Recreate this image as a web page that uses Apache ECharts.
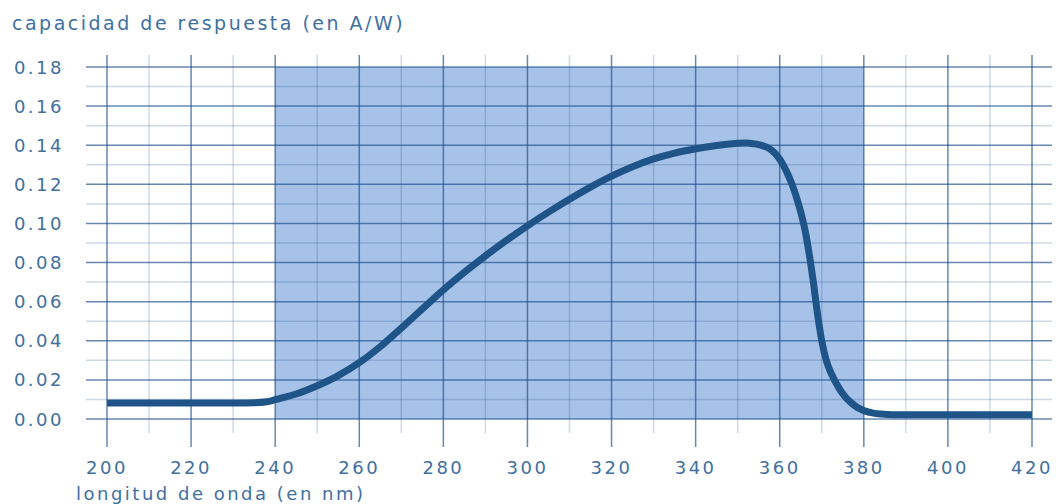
<!DOCTYPE html>
<html>
<head>
<meta charset="utf-8">
<title>capacidad de respuesta</title>
<script src="https://cdn.jsdelivr.net/npm/echarts@6/dist/echarts.min.js"></script>
<style>
  html, body { margin: 0; padding: 0; background: #ffffff; }
  #chart { width: 1058px; height: 504px; letter-spacing: 2.5px; }
</style>
</head>
<body>
<div id="chart"></div>
<script>
// Spectral responsivity (A/W) against wavelength (nm)
const wavelengths = [
  200, 210, 220, 230, 235, 238, 240, 245, 250, 255, 260, 265, 270, 275, 280, 285,
  290, 295, 300, 305, 310, 315, 320, 325, 330, 335, 340, 345, 350, 352, 354, 355,
  356, 357, 358, 359, 360, 361, 362, 363, 364, 365, 366, 367, 368, 369, 370, 371,
  372, 373, 374, 375, 376, 377, 378, 379, 380, 382, 384, 387, 390, 400, 410, 420
];
const response = [
  0.0082, 0.0082, 0.0082, 0.0082, 0.0083, 0.0088, 0.0099, 0.0128, 0.0170, 0.0222, 0.0288, 0.0370, 0.0465, 0.0563, 0.0660, 0.0750,
  0.0834, 0.0913, 0.0988, 0.1058, 0.1124, 0.1186, 0.1242, 0.1290, 0.1330, 0.1360, 0.1382, 0.1399, 0.1410, 0.1411, 0.1407, 0.1403,
  0.1397, 0.1389, 0.1376, 0.1356, 0.1328, 0.1292, 0.1248, 0.1196, 0.1132, 0.1058, 0.0968, 0.0845, 0.0700, 0.0535, 0.0400, 0.0305,
  0.0245, 0.0200, 0.0162, 0.0129, 0.0103, 0.0083, 0.0066, 0.0053, 0.0043, 0.0031, 0.0025, 0.0022, 0.0022, 0.0022, 0.0022, 0.0022
];

// Grid lines: labelled (major) and intermediate (minor) positions
const xTicks = [200, 220, 240, 260, 280, 300, 320, 340, 360, 380, 400, 420];
const xMinor = [210, 230, 250, 270, 290, 310, 330, 350, 370, 390, 410];
const yTicks = [0, 0.02, 0.04, 0.06, 0.08, 0.10, 0.12, 0.14, 0.16, 0.18];
const yMinor = [0.01, 0.03, 0.05, 0.07, 0.09, 0.11, 0.13, 0.15, 0.17];

// Highlighted measuring band
const bandRange = [240, 380];

const titleText = 'capacidad de respuesta (en A/W)';
const xAxisText = 'longitud de onda (en nm)';

const textColor = '#41709f';
const fontFamily = '"DejaVu Sans", sans-serif';

const xMin = xTicks[0], xMax = xTicks[xTicks.length - 1];
const yMin = yTicks[0], yMax = yTicks[yTicks.length - 1];

const chart = echarts.init(document.getElementById('chart'), null, { renderer: 'svg' });

function line(x1, y1, x2, y2, stroke, width) {
  return {
    type: 'line',
    shape: { x1, y1, x2, y2 },
    style: { stroke, lineWidth: width }
  };
}

chart.setOption({
  animation: false,
  backgroundColor: '#ffffff',
  grid: { left: 107, right: 26, top: 67, bottom: 85 },
  graphic: [
    {
      type: 'text', left: 12, top: 13,
      style: { text: titleText, fill: textColor, font: '19px ' + fontFamily }
    },
    {
      type: 'text', left: 76, top: 484,
      style: { text: xAxisText, fill: textColor, font: '18px ' + fontFamily }
    }
  ],
  xAxis: {
    type: 'value',
    min: xMin, max: xMax, interval: 20,
    axisLine: { show: false }, axisTick: { show: false }, splitLine: { show: false },
    axisLabel: {
      margin: 39, color: textColor, fontSize: 18, fontFamily: fontFamily,
      formatter: v => String(v)
    }
  },
  yAxis: {
    type: 'value',
    min: yMin, max: yMax, interval: 0.02,
    axisLine: { show: false }, axisTick: { show: false }, splitLine: { show: false },
    axisLabel: {
      margin: 43, color: textColor, fontSize: 18, fontFamily: fontFamily,
      formatter: v => v.toFixed(2)
    }
  },
  series: [
    {
      // shaded band
      type: 'custom', z: 1, clip: false, silent: true,
      data: [[bandRange[0], yMin]],
      renderItem: function (params, api) {
        const p1 = api.coord([bandRange[0], yMax]);
        const p2 = api.coord([bandRange[1], yMin]);
        return {
          type: 'rect',
          shape: { x: p1[0], y: p1[1], width: p2[0] - p1[0], height: p2[1] - p1[1] },
          style: { fill: '#a7c2e8' }
        };
      }
    },
    {
      // grid lines, running a little past the plot edges
      type: 'custom', z: 2, clip: false, silent: true,
      data: [[xMin, yMin]],
      renderItem: function (params, api) {
        const lo = api.coord([xMin, yMin]);
        const hi = api.coord([xMax, yMax]);
        const children = [];
        const minorCol = 'rgba(30,80,140,0.22)';
        const majorCol = 'rgba(30,80,140,0.68)';
        yMinor.forEach(v => {
          const y = api.coord([xMin, v])[1];
          children.push(line(lo[0] - 21, y, hi[0] + 20, y, minorCol, 1.5));
        });
        xMinor.forEach(v => {
          const x = api.coord([v, yMin])[0];
          children.push(line(x, hi[1] - 12, x, lo[1] + 14, minorCol, 1.5));
        });
        yTicks.forEach(v => {
          const y = api.coord([xMin, v])[1];
          children.push(line(lo[0] - 21, y, hi[0] + 20, y, majorCol, 1.5));
        });
        xTicks.forEach(v => {
          const x = api.coord([v, yMin])[0];
          children.push(line(x, hi[1] - 12, x, lo[1] + 28, majorCol, 1.5));
        });
        return { type: 'group', children };
      }
    },
    {
      type: 'line', z: 3,
      data: wavelengths.map((w, i) => [w, response[i]]),
      smooth: 0.3,
      showSymbol: false,
      lineStyle: { color: '#1f5488', width: 7, cap: 'butt', join: 'round' }
    }
  ]
});
</script>
</body>
</html>
